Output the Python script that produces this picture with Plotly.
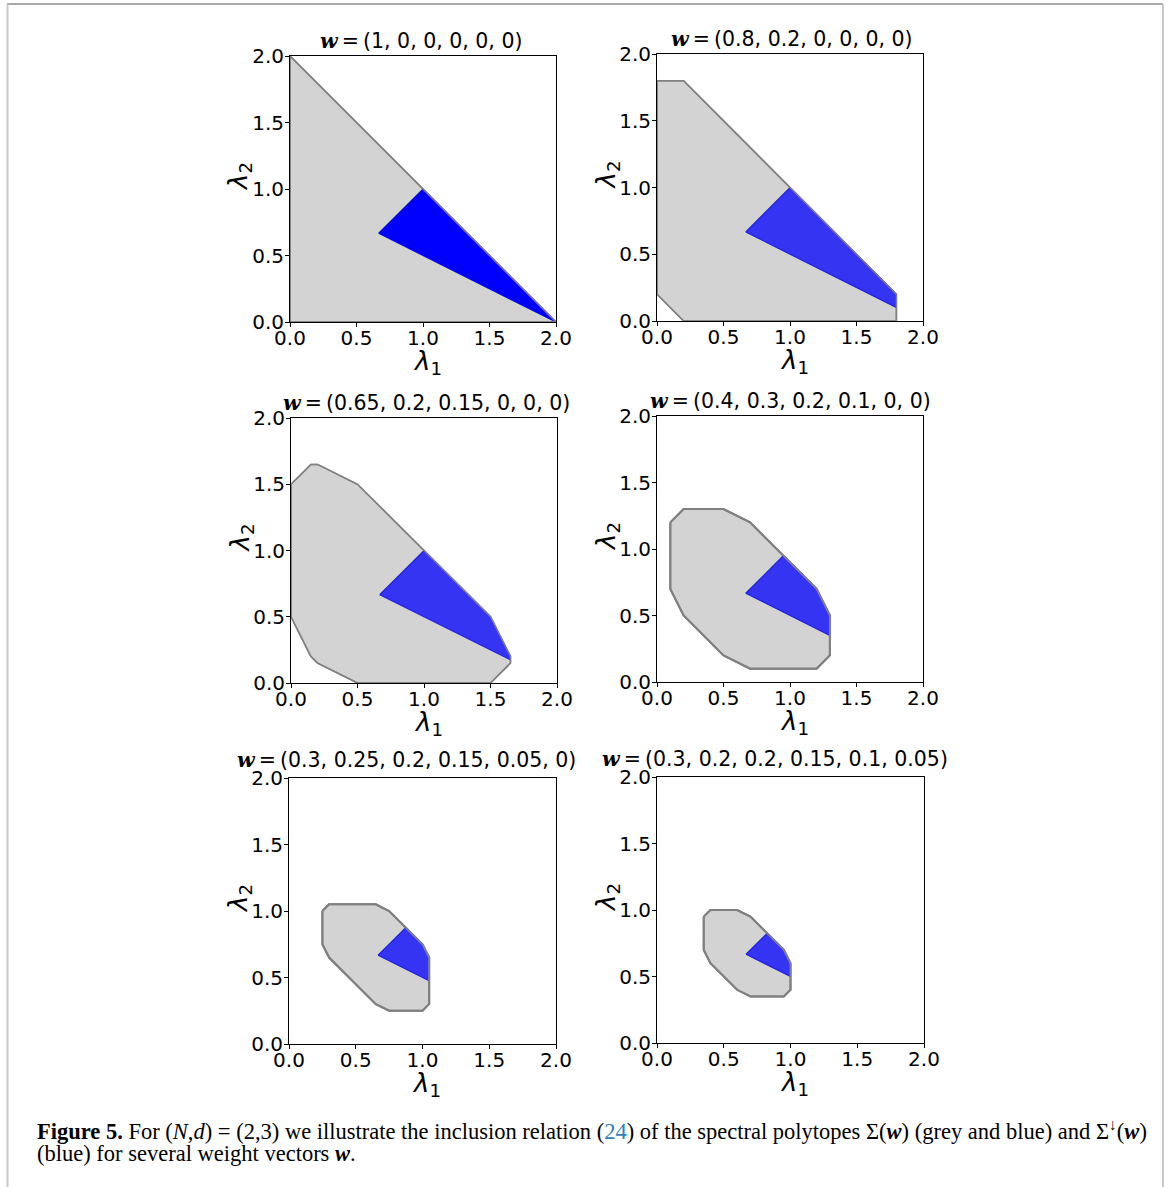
import plotly.graph_objects as go

W, H = 1168, 1187

# ---------------- data ----------------
titles = [
    "(1, 0, 0, 0, 0, 0)",
    "(0.8, 0.2, 0, 0, 0, 0)",
    "(0.65, 0.2, 0.15, 0, 0, 0)",
    "(0.4, 0.3, 0.2, 0.1, 0, 0)",
    "(0.3, 0.25, 0.2, 0.15, 0.05, 0)",
    "(0.3, 0.2, 0.2, 0.15, 0.1, 0.05)",
]

grey1_x = [0, 2, 0, 0]
grey1_y = [0, 0, 2, 0]
blue1_x = [0.667, 1, 2, 0.667]
blue1_y = [0.667, 1, 0, 0.667]

grey2_x = [0, 0.2, 1.8, 1.8, 0.2, 0, 0]
grey2_y = [0.2, 0, 0, 0.2, 1.8, 1.8, 0.2]
blue2_x = [0.667, 1, 1.8, 1.8, 0.667]
blue2_y = [0.667, 1, 0.2, 0.1, 0.667]

grey3_x = [0, 0.15, 0.2, 0.5, 1.5, 1.65, 1.65, 1.5, 0.5, 0.2, 0.15, 0, 0]
grey3_y = [0.5, 0.2, 0.15, 0, 0, 0.15, 0.2, 0.5, 1.5, 1.65, 1.65, 1.5, 0.5]
blue3_x = [0.667, 1, 1.5, 1.65, 1.65, 0.667]
blue3_y = [0.667, 1, 0.5, 0.2, 0.175, 0.667]

grey4_x = [0.1, 0.2, 0.5, 0.7, 1.2, 1.3, 1.3, 1.2, 0.7, 0.5, 0.2, 0.1, 0.1]
grey4_y = [1.2, 1.3, 1.3, 1.2, 0.7, 0.5, 0.2, 0.1, 0.1, 0.2, 0.5, 0.7, 1.2]
blue4_x = [0.667, 0.95, 1.2, 1.3, 1.3, 0.667]
blue4_y = [0.667, 0.95, 0.7, 0.5, 0.35, 0.667]

grey5_x = [0.25, 0.3, 0.65, 0.75, 1.0, 1.05, 1.05, 1.0, 0.75, 0.65, 0.3, 0.25, 0.25]
grey5_y = [1.0, 1.05, 1.05, 1.0, 0.75, 0.65, 0.3, 0.25, 0.25, 0.3, 0.65, 0.75, 1.0]
blue5_x = [0.667, 0.875, 1.0, 1.05, 1.05, 0.667]
blue5_y = [0.667, 0.875, 0.75, 0.65, 0.475, 0.667]

grey6_x = [0.35, 0.4, 0.6, 0.7, 0.95, 1.0, 1.0, 0.95, 0.7, 0.6, 0.4, 0.35, 0.35]
grey6_y = [0.95, 1.0, 1.0, 0.95, 0.7, 0.6, 0.4, 0.35, 0.35, 0.4, 0.6, 0.7, 0.95]
blue6_x = [0.667, 0.825, 0.95, 1.0, 1.0, 0.667]
blue6_y = [0.667, 0.825, 0.7, 0.6, 0.5, 0.667]

greys = [(grey1_x, grey1_y), (grey2_x, grey2_y), (grey3_x, grey3_y),
         (grey4_x, grey4_y), (grey5_x, grey5_y), (grey6_x, grey6_y)]
blues = [(blue1_x, blue1_y), (blue2_x, blue2_y), (blue3_x, blue3_y),
         (blue4_x, blue4_y), (blue5_x, blue5_y), (blue6_x, blue6_y)]

tick_vals = [0.0, 0.5, 1.0, 1.5, 2.0]
tick_text = ["0.0", "0.5", "1.0", "1.5", "2.0"]

# ---------------- layout (pixel boxes: left, right, top, bottom) ----------------
boxes = [
    (290, 556, 56, 322),
    (657, 923, 54, 321),
    (291, 557, 418, 683),
    (657, 923, 416, 682),
    (289, 556, 778, 1044),
    (657, 924, 777, 1043),
]
title_xshift = [-2, 2, 2, 0, -16, -16]
title_yshift = [1, 1, 1, 1, 4, 4]

def fx(x):
    return x / W

def fy(y):
    return 1 - y / H

fig = go.Figure()
annotations = []
shapes = []
tickfont = dict(family="DejaVu Sans", size=20, color="black")

for i in range(6):
    n = i + 1
    xa = "x" if n == 1 else f"x{n}"
    ya = "y" if n == 1 else f"y{n}"
    gx, gy = greys[i]
    bx, by = blues[i]
    blue_fill = "#0000ff" if i == 0 else "#3434f2"
    blue_line = "#0000ff" if i == 0 else "rgba(20,20,255,0.9)"
    gw = 1.5 if i < 3 else 2
    fig.add_trace(go.Scatter(x=gx, y=gy, mode="lines", fill="toself",
                             fillcolor="#d3d3d3", line=dict(color="#808080", width=gw),
                             xaxis=xa, yaxis=ya, showlegend=False, hoverinfo="skip"))
    fig.add_trace(go.Scatter(x=bx, y=by, mode="lines", fill="toself",
                             fillcolor=blue_fill, line=dict(color=blue_line, width=1.2),
                             xaxis=xa, yaxis=ya, showlegend=False, hoverinfo="skip"))
    fig.add_trace(go.Scatter(x=gx, y=gy, mode="lines",
                             line=dict(color="#808080", width=gw),
                             xaxis=xa, yaxis=ya, showlegend=False, hoverinfo="skip"))

    l, r, t, b = boxes[i]
    axis_common = dict(range=[0, 2], tickvals=tick_vals, ticktext=tick_text,
                       showgrid=False, zeroline=False, showline=True, mirror=True,
                       linecolor="black", linewidth=1, ticks="outside", ticklen=4,
                       tickwidth=1, tickcolor="black", tickfont=tickfont, fixedrange=True,
                       automargin=False)
    fig.layout[("xaxis" if n == 1 else f"xaxis{n}")] = dict(
        domain=[fx(l), fx(r)], anchor=ya, ticklabelstandoff=-6, **axis_common)
    fig.layout[("yaxis" if n == 1 else f"yaxis{n}")] = dict(
        domain=[fy(b), fy(t)], anchor=xa, ticklabelstandoff=-3, **axis_common)

    cx = (l + r) / 2
    annotations.append(dict(
        x=fx(cx), y=fy(t), xref="paper", yref="paper", xanchor="center", yanchor="bottom",
        yshift=title_yshift[i], xshift=title_xshift[i], showarrow=False,
        text="<span style=\"font-family:'DejaVu Serif'\"><b><i>w</i></b></span>\u2009=\u2009" + titles[i],
        font=dict(family="DejaVu Sans", size=20.5, color="black")))
    annotations.append(dict(
        x=fx(cx + 4), y=fy(b + 40), xref="paper", yref="paper", xanchor="center",
        yanchor="middle", showarrow=False, text="<i>λ</i><sub>1</sub>",
        font=dict(family="DejaVu Sans", size=26, color="black")))
    annotations.append(dict(
        x=fx(l - 50), y=fy((t + b) / 2 - 12), xref="paper", yref="paper", xanchor="center",
        yanchor="middle", showarrow=False, text="<i>λ</i><sub>2</sub>", textangle=-90,
        font=dict(family="DejaVu Sans", size=26, color="black")))

cap_font = dict(family="Liberation Serif", size=22.5, color="black")
annotations.append(dict(
    x=fx(35), y=fy(1130), xref="paper", yref="paper", xanchor="left", yanchor="middle",
    showarrow=False, font=cap_font, align="left",
    text="<b>Figure 5.</b> For (<i>N</i>,<i>d</i>) = (2,3) we illustrate the inclusion relation "
         "(<span style=\"color:#2f7fc1\">24</span>) of the spectral polytopes Σ(<b><i>w</i></b>) "
         "(grey and blue) and Σ<sup>↓</sup>(<b><i>w</i></b>)"))
annotations.append(dict(
    x=fx(35), y=fy(1153), xref="paper", yref="paper", xanchor="left", yanchor="middle",
    showarrow=False, font=cap_font, align="left",
    text="(blue) for several weight vectors <b><i>w</i></b>."))

# frame
shapes.append(dict(type="line", xref="paper", yref="paper", x0=fx(7), x1=fx(1163),
                   y0=fy(4), y1=fy(4), line=dict(color="#8c8c8c", width=1.5)))
shapes.append(dict(type="line", xref="paper", yref="paper", x0=fx(7.5), x1=fx(7.5),
                   y0=fy(4), y1=0, line=dict(color="#c8c8c8", width=2)))
shapes.append(dict(type="line", xref="paper", yref="paper", x0=fx(1163), x1=fx(1163),
                   y0=fy(4), y1=0, line=dict(color="#c8c8c8", width=2)))

fig.update_layout(width=W, height=H, margin=dict(l=0, r=0, t=0, b=0, autoexpand=False),
                  paper_bgcolor="white", plot_bgcolor="white",
                  annotations=annotations, shapes=shapes, showlegend=False)

fig.write_html("out.html", config={"displayModeBar": False},
               post_script="document.body.style.margin='0';document.body.style.overflow='hidden';")
